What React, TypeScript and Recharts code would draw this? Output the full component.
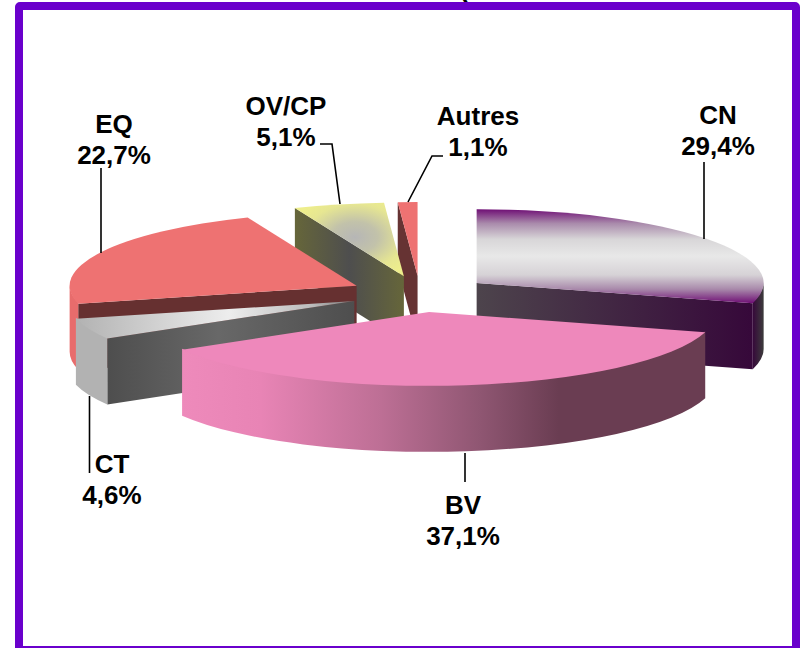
import { PieChart, Pie } from 'recharts'

const categories = ['CN', 'Autres', 'OV/CP', 'EQ', 'CT', 'BV']
const shares = [29.4, 1.1, 5.1, 22.7, 4.6, 37.1]

const data = categories.map((name, i) => ({ name, value: shares[i] }))

// the first slice runs clockwise from 12 o'clock; slices are listed counter-clockwise
// so the painting order comes out back to front
const START_ANGLE = 90 - shares[0] * 3.6

const TILT = 0.257
const DEPTH = 66
const EXPLODE = 71

const FILLS: Record<string, { top: string; cut: string; wall: string }> = {
  CN: { top: 'url(#cnTop)', cut: 'url(#cnCut)', wall: 'url(#cnWall)' },
  Autres: { top: '#ee7272', cut: '#663333', wall: '#663333' },
  'OV/CP': { top: 'url(#ovTop)', cut: 'url(#ovCut)', wall: '#66663a' },
  EQ: { top: '#ee7272', cut: '#663030', wall: '#e86c6c' },
  CT: { top: 'url(#ctTop)', cut: 'url(#ctCut)', wall: '#b2b2b2' },
  BV: { top: '#ee88bb', cut: '#6a3d52', wall: 'url(#bvWall)' },
}

const LABELS: Record<string, { x: number; y: number; leader: string }> = {
  CN: { x: 718, y: 124, leader: '704,162 704,239' },
  Autres: { x: 478, y: 125, leader: '443,156 432,156 408,202' },
  'OV/CP': { x: 286, y: 115, leader: '320,144 332,144 340,204' },
  EQ: { x: 114, y: 133, leader: '101,168 101,253' },
  CT: { x: 112, y: 473, leader: '89.5,396 89.5,473' },
  BV: { x: 463, y: 514, leader: '465,453 465,482' },
}

const rad = (deg: number) => (deg * Math.PI) / 180

// tilted, pulled-out pie slice: cut faces and rim first, the top surface over them
function Slice3D(props: any) {
  const { cx, cy, startAngle, endAngle, midAngle, outerRadius: rx, name } = props
  const ry = rx * TILT
  const ax = cx + Math.cos(rad(midAngle)) * EXPLODE
  const ay = cy - Math.sin(rad(midAngle)) * EXPLODE * TILT
  const lo = Math.min(startAngle, endAngle)
  const hi = Math.max(startAngle, endAngle)
  const px = (a: number) => ax + rx * Math.cos(rad(a))
  const py = (a: number) => ay - ry * Math.sin(rad(a))
  const fill = FILLS[name]

  const face = (a: number) =>
    `M${ax},${ay} L${px(a)},${py(a)} L${px(a)},${py(a) + DEPTH} L${ax},${ay + DEPTH} Z`

  // only the front half of the rim can be seen
  const base = lo < 0 ? -180 : 180
  const from = Math.max(lo, base)
  const to = Math.min(hi, base + 180)
  const large = to - from > 180 ? 1 : 0

  return (
    <g>
      {Math.cos(rad(lo)) > 0.001 && <path d={face(lo)} fill={fill.cut} />}
      {Math.cos(rad(hi)) < -0.001 && <path d={face(hi)} fill={fill.cut} />}
      {to > from && (
        // lifted a pixel so it tucks under the top surface without a seam
        <path
          d={`M${px(from)},${py(from) - 1} A${rx},${ry} 0 ${large} 0 ${px(to)},${py(to) - 1}
              L${px(to)},${py(to) + DEPTH} A${rx},${ry} 0 ${large} 1 ${px(from)},${py(from) + DEPTH} Z`}
          fill={fill.wall}
        />
      )}
      <path
        d={`M${ax},${ay} L${px(lo)},${py(lo)} A${rx},${ry} 0 ${hi - lo > 180 ? 1 : 0} 0 ${px(hi)},${py(hi)} Z`}
        fill={fill.top}
      />
    </g>
  )
}

function SliceLabel(props: any) {
  const { name, value } = props
  const l = LABELS[name]
  return (
    <g>
      <polyline points={l.leader} fill="none" stroke="#000" strokeWidth={1.6} />
      <text x={l.x} y={l.y} textAnchor="middle" fontFamily="Liberation Sans" fontWeight="bold" fontSize={26} fill="#000">
        <tspan x={l.x}>{name}</tspan>
        <tspan x={l.x} dy={31}>{value.toFixed(1).replace('.', ',')}%</tspan>
      </text>
    </g>
  )
}

export default function App() {
  return (
    <div style={{ position: 'absolute', left: 0, top: 0, width: 801, height: 648, overflow: 'hidden', background: '#fff' }}>
      <div
        style={{
          position: 'absolute',
          left: 15,
          top: 2,
          width: 785,
          height: 652,
          boxSizing: 'border-box',
          border: '8px solid #6a00cc',
          borderRadius: 5,
        }}
      />
      <PieChart
        width={801}
        height={648}
        margin={{ top: 0, right: 0, bottom: 0, left: 0 }}
        style={{ position: 'absolute', left: 0, top: 0 }}
      >
        <defs>
          <linearGradient id="cnTop" x1="0" y1="0" x2="0" y2="1">
            <stop offset="0" stopColor="#6f0f75" />
            <stop offset="0.15" stopColor="#a98aab" />
            <stop offset="0.32" stopColor="#d8d6d8" />
            <stop offset="0.5" stopColor="#e8e8e8" />
            <stop offset="0.7" stopColor="#d6d2d6" />
            <stop offset="0.85" stopColor="#a98aab" />
            <stop offset="1" stopColor="#6f0f75" />
          </linearGradient>
          <linearGradient id="cnCut" x1="0" y1="0" x2="1" y2="0">
            <stop offset="0" stopColor="#4d444c" />
            <stop offset="1" stopColor="#36083a" />
          </linearGradient>
          <linearGradient id="cnWall" x1="0" y1="0" x2="1" y2="0">
            <stop offset="0" stopColor="#36083a" />
            <stop offset="1" stopColor="#3c3c3c" />
          </linearGradient>
          <linearGradient id="bvWall" x1="0" y1="0" x2="1" y2="0">
            <stop offset="0" stopColor="#ee8abb" />
            <stop offset="0.15" stopColor="#e884b5" />
            <stop offset="0.38" stopColor="#bd6f95" />
            <stop offset="0.57" stopColor="#8f5672" />
            <stop offset="0.72" stopColor="#6a3d52" />
            <stop offset="1" stopColor="#6a3d52" />
          </linearGradient>
          <linearGradient id="ctTop" x1="0" y1="0" x2="1" y2="0">
            <stop offset="0" stopColor="#b2b2b2" />
            <stop offset="0.55" stopColor="#ededed" />
            <stop offset="0.85" stopColor="#bbbbbb" />
            <stop offset="1" stopColor="#777777" />
          </linearGradient>
          <linearGradient id="ctCut" x1="0" y1="0" x2="1" y2="0">
            <stop offset="0" stopColor="#4e4e4e" />
            <stop offset="0.45" stopColor="#686868" />
            <stop offset="1" stopColor="#4e4e4e" />
          </linearGradient>
          <linearGradient id="ovCut" x1="0" y1="0" x2="1" y2="0">
            <stop offset="0" stopColor="#66663a" />
            <stop offset="0.5" stopColor="#4e4e4e" />
            <stop offset="1" stopColor="#66663a" />
          </linearGradient>
          <radialGradient id="ovTop" cx="0.55" cy="0.47" r="0.6">
            <stop offset="0" stopColor="#b6b6b6" />
            <stop offset="0.35" stopColor="#c2c2aa" />
            <stop offset="0.75" stopColor="#e6e692" />
            <stop offset="1" stopColor="#eeee8c" />
          </radialGradient>
        </defs>
        <Pie
          data={data}
          dataKey="value"
          nameKey="name"
          cx={420}
          cy={294}
          outerRadius={287}
          startAngle={START_ANGLE}
          endAngle={START_ANGLE + 360}
          shape={Slice3D}
          label={SliceLabel}
          labelLine={false}
          isAnimationActive={false}
        />
        {/* tail of the title, which runs off the top of the frame */}
        <text x={459} y={-3} fontFamily="Liberation Sans" fontWeight="bold" fontSize={26} fill="#000">(</text>
      </PieChart>
    </div>
  )
}
